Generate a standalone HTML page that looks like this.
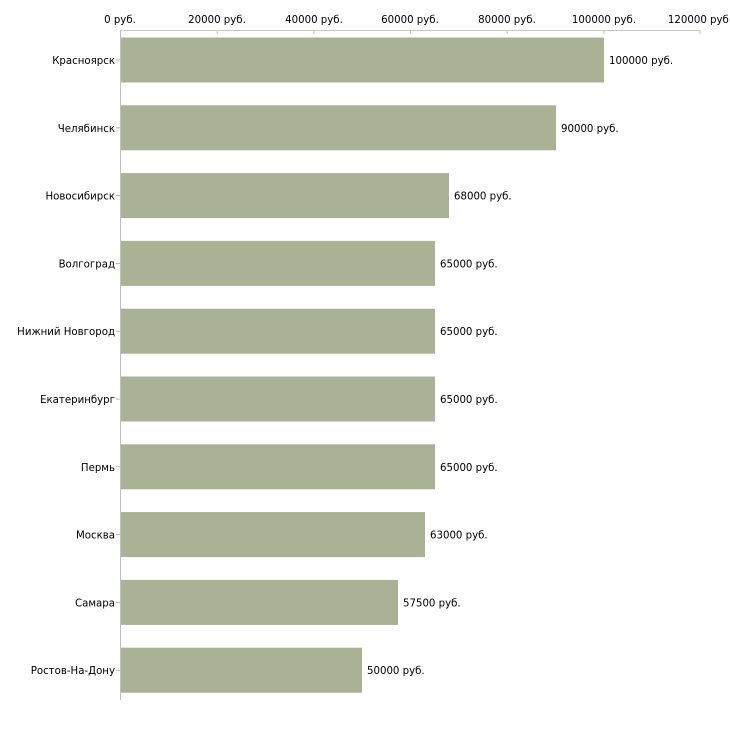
<!DOCTYPE html>
<html><head><meta charset="utf-8"><style>body{margin:0;background:#fff}</style></head><body>
<svg width="730" height="730" xmlns="http://www.w3.org/2000/svg" font-family="'DejaVu Sans', 'Liberation Sans', sans-serif" font-size="11" fill="#000">
<line x1="120" y1="30.5" x2="700" y2="30.5" stroke="#c8c8c0"/>
<line x1="120.5" y1="30" x2="120.5" y2="700" stroke="#c0c0c0"/>
<g stroke="#c8c8a8">
<line x1="217.2" y1="30" x2="217.2" y2="34"/><line x1="313.8" y1="30" x2="313.8" y2="34"/><line x1="410.5" y1="30" x2="410.5" y2="34"/><line x1="507.2" y1="30" x2="507.2" y2="34"/><line x1="603.8" y1="30" x2="603.8" y2="34"/><line x1="700" y1="30" x2="700" y2="34"/>
</g>
<g text-anchor="middle" font-size="10.2">
<text x="120" y="23">0 руб.</text><text x="217" y="23">20000 руб.</text><text x="314" y="23">40000 руб.</text><text x="410" y="23">60000 руб.</text><text x="507" y="23">80000 руб.</text><text x="604" y="23">100000 руб.</text><text x="700" y="23">120000 руб.</text>
</g>
<g fill="#abb195">
<rect x="121" y="37.5" width="483" height="45"/>
<rect x="121" y="105.3" width="435" height="45"/>
<rect x="121" y="173.1" width="328" height="45"/>
<rect x="121" y="240.9" width="314" height="45"/>
<rect x="121" y="308.7" width="314" height="45"/>
<rect x="121" y="376.5" width="314" height="45"/>
<rect x="121" y="444.3" width="314" height="45"/>
<rect x="121" y="512.1" width="304" height="45"/>
<rect x="121" y="579.9" width="277" height="45"/>
<rect x="121" y="647.7" width="241" height="45"/>
</g>
<g stroke="#b8b890">
<line x1="116" y1="60" x2="120" y2="60"/><line x1="116" y1="127.8" x2="120" y2="127.8"/><line x1="116" y1="195.6" x2="120" y2="195.6"/><line x1="116" y1="263.4" x2="120" y2="263.4"/><line x1="116" y1="331.2" x2="120" y2="331.2"/><line x1="116" y1="399" x2="120" y2="399"/><line x1="116" y1="466.8" x2="120" y2="466.8"/><line x1="116" y1="534.6" x2="120" y2="534.6"/><line x1="116" y1="602.4" x2="120" y2="602.4"/><line x1="116" y1="670.2" x2="120" y2="670.2"/>
</g>
<g text-anchor="end" font-size="10.2">
<text x="115" y="64">Красноярск</text><text x="115" y="131.8">Челябинск</text><text x="115" y="199.6">Новосибирск</text><text x="115" y="267.4">Волгоград</text><text x="115" y="335.2">Нижний Новгород</text><text x="115" y="403">Екатеринбург</text><text x="115" y="470.8">Пермь</text><text x="115" y="538.6">Москва</text><text x="115" y="606.4">Самара</text><text x="115" y="674.2">Ростов-На-Дону</text>
</g>
<g font-size="10.2">
<text x="609" y="64">100000 руб.</text><text x="561" y="131.8">90000 руб.</text><text x="454" y="199.6">68000 руб.</text><text x="440" y="267.4">65000 руб.</text><text x="440" y="335.2">65000 руб.</text><text x="440" y="403">65000 руб.</text><text x="440" y="470.8">65000 руб.</text><text x="430" y="538.6">63000 руб.</text><text x="403" y="606.4">57500 руб.</text><text x="367" y="674.2">50000 руб.</text>
</g>
</svg>
</body></html>
